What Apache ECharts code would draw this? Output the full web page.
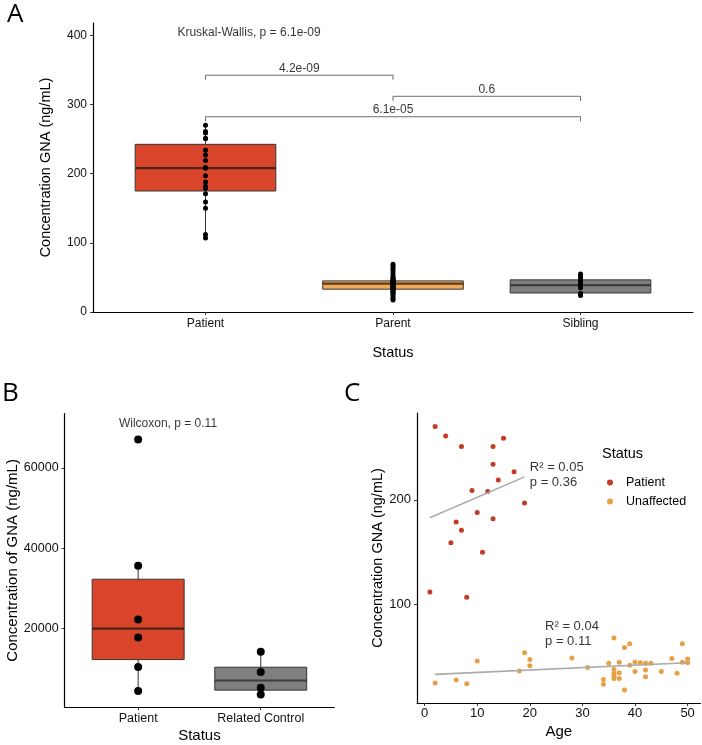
<!DOCTYPE html>
<html><head><meta charset="utf-8">
<script src="https://cdn.jsdelivr.net/npm/echarts@6/dist/echarts.min.js"></script>
<style>html,body{margin:0;padding:0;background:#fff}#c{width:702px;height:745px}</style>
</head><body><div id="c"></div>
<script>
// ---------- Panel A data ----------
const catsA = ['Patient', 'Parent', 'Sibling'];
// [lower whisker, Q1, median, Q3, upper whisker]
const boxA = [
  [107, 175, 208, 242.5, 270],
  [18, 33, 41, 45, 63],
  [24, 27.5, 39, 46.5, 55]
];
const ptsAPatient = [270, 261, 259, 251, 251, 234, 227, 219, 209, 208, 197, 188, 182, 179, 171, 159, 150, 112, 107];
const ptsAParent = [69, 66, 63, 60, 56, 52, 50, 48.5, 47, 46, 45, 44.5, 44, 43, 42, 41.5, 41, 40, 39, 38, 37, 36, 35, 34, 33.5, 32.5, 31, 29.5, 28.5, 27, 25, 22, 19, 17.5];
const ptsASibling = [55, 52, 49, 46.5, 44, 42, 40, 39, 38, 36.5, 35, 27, 25.5, 24];
const bracketPairs = [[1, 2], [2, 3], [1, 3]];
const bracketY = [342.5, 312, 282.4];
const bracketLabels = ['4.2e-09', '0.6', '6.1e-05'];
const kruskalLabel = 'Kruskal-Wallis, p = 6.1e-09';
const ticksA = [0, 100, 200, 300, 400];

// ---------- Panel B data ----------
const catsB = ['Patient', 'Related Control'];
const boxB = [
  [4500, 12300, 20000, 32300, 35650],
  [3600, 4700, 7100, 10400, 14230]
];
const ptsBPatient = [67100, 35650, 22250, 17800, 10450, 4500];
const ptsBControl = [14230, 9200, 5270, 3600];
const wilcoxLabel = 'Wilcoxon, p = 0.11';
const ticksB = [20000, 40000, 60000];

// ---------- Panel C data ----------
const patientC = [[2,270],[4,261],[7,251],[13,251],[15,259],[13,234],[17,227],[14,219],[9,209],[12,208],[19,197],[10,188],[13,182],[6,179],[7,171],[5,159],[11,150],[1,112],[8,107]];
const unaffectedC = [[2,25],[6,28],[8,24.5],[10,46],[18,36.5],[19,54],[20,47.5],[20,41.5],[28,49],[31,40],[34,28.5],[34,24],[35,44],[36,68],[36,38],[36,34],[36,31.5],[36,29.5],[37,45],[37,35],[37,29.5],[38,59],[38,18.5],[39,62.5],[39,42],[40,45],[40,36],[41,44.5],[42,44],[42,37.5],[42,31],[43,44],[45,36],[47,48.5],[48,34.5],[49,62.5],[49,45],[50,48],[50,44.5]];
const fitPatient = [[1, 183], [19, 222]];
const fitUnaffected = [[2, 33.3], [50, 44.4]];
const statPatient = 'R\u00b2 = 0.05\np = 0.36';
const statUnaffected = 'R\u00b2 = 0.04\np = 0.11';
const ticksCx = [0, 10, 20, 30, 40, 50];
const ticksCy = [100, 200];

// ---------- colours ----------
const RED = '#D9452A', ORANGE = '#F0AA5C', GREY = '#7F7F7F';
const PT_RED = '#C23B22', PT_ORANGE = '#E8A045';
const FONT = '"Liberation Sans", Arial, sans-serif';

function boxRender(width, fills, medColors) {
  return function (params, api) {
    const x = api.value(0), lo = api.value(1), q1 = api.value(2), med = api.value(3), q3 = api.value(4), hi = api.value(5);
    const pLo = api.coord([x, lo]), pQ1 = api.coord([x, q1]), pQ3 = api.coord([x, q3]), pHi = api.coord([x, hi]);
    const tl = api.coord([x - width / 2, q3]), br = api.coord([x + width / 2, q1]);
    const ml = api.coord([x - width / 2, med]), mr = api.coord([x + width / 2, med]);
    const i = params.dataIndex;
    return { type: 'group', children: [
      { type: 'line', shape: { x1: pLo[0], y1: pLo[1], x2: pQ1[0], y2: pQ1[1] }, style: { stroke: '#333', lineWidth: 1 } },
      { type: 'line', shape: { x1: pQ3[0], y1: pQ3[1], x2: pHi[0], y2: pHi[1] }, style: { stroke: '#333', lineWidth: 1 } },
      { type: 'rect', shape: { x: tl[0], y: tl[1], width: br[0] - tl[0], height: br[1] - tl[1] }, style: { fill: fills[i], stroke: '#3a3430', lineWidth: 1 } },
      { type: 'line', shape: { x1: ml[0], y1: ml[1], x2: mr[0], y2: mr[1] }, style: { stroke: medColors[i], lineWidth: 2.2 } }
    ]};
  };
}

function valAxis(opt) {
  return Object.assign({
    type: 'value', splitLine: { show: false },
    axisLine: { show: true, onZero: false, lineStyle: { color: '#000', width: 1.2 } },
    axisTick: { show: true, length: 3, lineStyle: { color: '#333' } },
    axisLabel: { color: '#111', fontFamily: FONT, fontSize: 12 },
    nameLocation: 'middle', nameTextStyle: { color: '#000', fontFamily: FONT, fontSize: 14.5 }
  }, opt);
}

const chart = echarts.init(document.getElementById('c'), null, { renderer: 'canvas' });

const bracketSeries = bracketPairs.map((p, i) => ({
  type: 'line', xAxisIndex: 0, yAxisIndex: 0, silent: true, symbol: 'none', animation: false,
  lineStyle: { color: '#6b6b6b', width: 1 },
  data: [[p[0], bracketY[i] - 6.5], [p[0], bracketY[i]], [p[1], bracketY[i]], [p[1], bracketY[i] - 6.5]]
}));

const option = {
  animation: false,
  textStyle: { fontFamily: FONT },
  grid: [
    { left: 93, top: 23, width: 600, height: 289 },
    { left: 64.6, top: 413.7, width: 269.7, height: 293.3 },
    { left: 417, top: 413, width: 283.5, height: 290 }
  ],
  xAxis: [
    valAxis({ gridIndex: 0, min: 0.4, max: 3.6, name: 'Status', nameGap: 33, nameTextStyle: { color: '#000', fontFamily: FONT, fontSize: 14.5 },
      axisTick: { show: true, length: 3, customValues: [1, 2, 3], lineStyle: { color: '#333' } },
      axisLabel: { color: '#111', fontFamily: FONT, fontSize: 12, margin: 6, customValues: [1, 2, 3], formatter: v => catsA[Math.round(v) - 1] } }),
    valAxis({ gridIndex: 1, min: 0.4, max: 2.6, name: 'Status', nameGap: 21.5, nameTextStyle: { color: '#000', fontFamily: FONT, fontSize: 15 },
      axisTick: { show: true, length: 3, customValues: [1, 2], lineStyle: { color: '#333' } },
      axisLabel: { color: '#111', fontFamily: FONT, fontSize: 12.5, margin: 5, customValues: [1, 2], formatter: v => catsB[Math.round(v) - 1] } }),
    valAxis({ gridIndex: 2, min: -1.45, max: 52.45, name: 'Age', nameGap: 21, nameTextStyle: { color: '#000', fontFamily: FONT, fontSize: 15 },
      axisTick: { show: true, length: 3, customValues: ticksCx, lineStyle: { color: '#333' } },
      axisLabel: { color: '#111', fontFamily: FONT, fontSize: 13, margin: 4, customValues: ticksCx } })
  ],
  yAxis: [
    valAxis({ gridIndex: 0, min: 0, max: 418, name: 'Concentration GNA (ng/mL)', nameGap: 40,
      axisTick: { show: true, length: 3, customValues: ticksA, lineStyle: { color: '#333' } },
      axisLabel: { color: '#111', fontFamily: FONT, fontSize: 12, margin: 6, customValues: ticksA } }),
    valAxis({ gridIndex: 1, min: 500, max: 73500, name: 'Concentration of GNA (ng/mL)', nameGap: 38.5, nameTextStyle: { color: '#000', fontFamily: FONT, fontSize: 15 },
      axisTick: { show: true, length: 3, customValues: ticksB, lineStyle: { color: '#333' } },
      axisLabel: { color: '#111', fontFamily: FONT, fontSize: 12.5, margin: 6, customValues: ticksB, formatter: v => String(v) } }),
    valAxis({ gridIndex: 2, min: 6, max: 283, name: 'Concentration GNA (ng/mL)', nameGap: 32,
      axisTick: { show: true, length: 3, customValues: ticksCy, lineStyle: { color: '#333' } },
      axisLabel: { color: '#111', fontFamily: FONT, fontSize: 13, margin: 6, customValues: ticksCy } })
  ],
  legend: {
    data: ['Patient', 'Unaffected'], orient: 'vertical', left: 602, top: 471, itemGap: 6,
    icon: 'circle', itemWidth: 18, itemHeight: 6,
    textStyle: { fontFamily: FONT, fontSize: 12.5, color: '#000', padding: [0, 0, 0, 2] }
  },
  graphic: [
    { type: 'text', left: 7, top: 2, style: { text: 'A', font: '26px "Open Sans", sans-serif', fill: '#000' } },
    { type: 'text', left: 2, top: 381, style: { text: 'B', font: '26px "Open Sans", sans-serif', fill: '#000' } },
    { type: 'text', left: 344, top: 381, style: { text: 'C', font: '26px "Open Sans", sans-serif', fill: '#000' } },
    { type: 'text', left: 602, top: 446.5, style: { text: 'Status', font: '14.5px "Liberation Sans", Arial, sans-serif', fill: '#000' } }
  ],
  series: [
    // Panel A boxes
    { type: 'custom', xAxisIndex: 0, yAxisIndex: 0, renderItem: boxRender(0.75, [RED, ORANGE, GREY], ['#4d2216', '#5b3a1a', '#3d3d3d']),
      encode: { x: 0, y: [1, 2, 3, 4, 5] }, data: boxA.map((b, i) => [i + 1].concat(b)) },
    { type: 'scatter', xAxisIndex: 0, yAxisIndex: 0, symbolSize: 5, itemStyle: { color: '#000', opacity: 1 },
      data: ptsAPatient.map(v => [1, v]).concat(ptsAParent.map(v => [2, v]), ptsASibling.map(v => [3, v])) },
    ...bracketSeries,
    { type: 'scatter', xAxisIndex: 0, yAxisIndex: 0, symbolSize: 0, silent: true,
      label: { show: true, position: 'top', distance: 1, color: '#000', fontFamily: FONT, fontSize: 12, formatter: p => p.data[2] },
      data: bracketPairs.map((p, i) => [(p[0] + p[1]) / 2, bracketY[i], bracketLabels[i]]) },
    { type: 'scatter', xAxisIndex: 0, yAxisIndex: 0, symbolSize: 0, silent: true,
      label: { show: true, position: 'right', distance: 0, color: '#000', fontFamily: FONT, fontSize: 12, formatter: kruskalLabel },
      data: [[0.85, 404.6]] },

    // Panel B
    { type: 'custom', xAxisIndex: 1, yAxisIndex: 1, renderItem: boxRender(0.75, [RED, GREY], ['#4d2216', '#3d3d3d']),
      encode: { x: 0, y: [1, 2, 3, 4, 5] }, data: boxB.map((b, i) => [i + 1].concat(b)) },
    { type: 'scatter', xAxisIndex: 1, yAxisIndex: 1, symbolSize: 8, itemStyle: { color: '#000', opacity: 1 },
      data: ptsBPatient.map(v => [1, v]).concat(ptsBControl.map(v => [2, v])) },
    { type: 'scatter', xAxisIndex: 1, yAxisIndex: 1, symbolSize: 0, silent: true,
      label: { show: true, position: 'right', distance: 0, color: '#000', fontFamily: FONT, fontSize: 12, formatter: wilcoxLabel },
      data: [[0.843, 70960]] },

    // Panel C
    { type: 'line', xAxisIndex: 2, yAxisIndex: 2, symbol: 'none', lineStyle: { color: '#ababab', width: 1.6 }, data: fitPatient, silent: true },
    { type: 'line', xAxisIndex: 2, yAxisIndex: 2, symbol: 'none', lineStyle: { color: '#ababab', width: 1.6 }, data: fitUnaffected, silent: true },
    { name: 'Patient', type: 'scatter', xAxisIndex: 2, yAxisIndex: 2, symbolSize: 5, itemStyle: { color: PT_RED, opacity: 1 }, data: patientC },
    { name: 'Unaffected', type: 'scatter', xAxisIndex: 2, yAxisIndex: 2, symbolSize: 5, itemStyle: { color: PT_ORANGE, opacity: 1 }, data: unaffectedC },
    { type: 'scatter', xAxisIndex: 2, yAxisIndex: 2, symbolSize: 0, silent: true,
      label: { show: true, position: 'right', distance: 0, color: '#000', fontFamily: FONT, fontSize: 13, lineHeight: 15, formatter: p => p.data[2] },
      data: [[20.0, 224.3, statPatient], [22.9, 72.2, statUnaffected]] }
  ]
};
chart.setOption(option);
</script></body></html>
